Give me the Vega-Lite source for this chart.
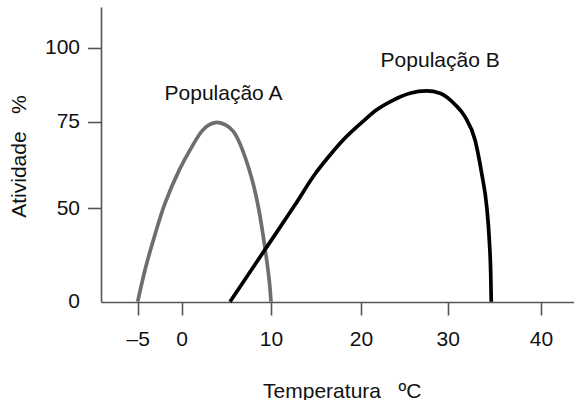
{
  "$schema": "https://vega.github.io/schema/vega-lite/v6.json",
  "width": 473,
  "height": 295,
  "autosize": {"type": "none"},
  "padding": {"left": 101, "top": 7, "right": 0, "bottom": 98},
  "background": "white",
  "config": {"view": {"stroke": null}, "font": "Liberation Sans"},
  "datasets": {
    "curves": [
      {"pop": "A", "i": 1, "temp": -5.0, "activity": 0},
      {"pop": "A", "i": 2, "temp": -4.17, "activity": 17.0},
      {"pop": "A", "i": 3, "temp": -3.15, "activity": 34.1},
      {"pop": "A", "i": 4, "temp": -1.9, "activity": 51.4},
      {"pop": "A", "i": 5, "temp": -0.27, "activity": 61.1},
      {"pop": "A", "i": 6, "temp": 1.1, "activity": 67.6},
      {"pop": "A", "i": 7, "temp": 2.24, "activity": 72.2},
      {"pop": "A", "i": 8, "temp": 3.0, "activity": 74.0},
      {"pop": "A", "i": 9, "temp": 3.95, "activity": 74.8},
      {"pop": "A", "i": 10, "temp": 4.96, "activity": 74.0},
      {"pop": "A", "i": 11, "temp": 5.78, "activity": 72.2},
      {"pop": "A", "i": 12, "temp": 6.53, "activity": 68.6},
      {"pop": "A", "i": 13, "temp": 7.84, "activity": 58.7},
      {"pop": "A", "i": 14, "temp": 8.6, "activity": 50.1},
      {"pop": "A", "i": 15, "temp": 9.33, "activity": 28.6},
      {"pop": "A", "i": 16, "temp": 9.81, "activity": 11.1},
      {"pop": "A", "i": 17, "temp": 10.0, "activity": 0},
      {"pop": "B", "i": 1, "temp": 5.41, "activity": 0},
      {"pop": "B", "i": 2, "temp": 7.31, "activity": 13.5},
      {"pop": "B", "i": 3, "temp": 9.33, "activity": 27.9},
      {"pop": "B", "i": 4, "temp": 12.67, "activity": 51.0},
      {"pop": "B", "i": 5, "temp": 14.89, "activity": 59.9},
      {"pop": "B", "i": 6, "temp": 16.56, "activity": 65.4},
      {"pop": "B", "i": 7, "temp": 17.86, "activity": 69.3},
      {"pop": "B", "i": 8, "temp": 20.27, "activity": 75.2},
      {"pop": "B", "i": 9, "temp": 21.81, "activity": 79.0},
      {"pop": "B", "i": 10, "temp": 23.73, "activity": 82.3},
      {"pop": "B", "i": 11, "temp": 25.65, "activity": 84.6},
      {"pop": "B", "i": 12, "temp": 27.58, "activity": 85.4},
      {"pop": "B", "i": 13, "temp": 29.11, "activity": 84.6},
      {"pop": "B", "i": 14, "temp": 30.78, "activity": 80.8},
      {"pop": "B", "i": 15, "temp": 31.85, "activity": 76.7},
      {"pop": "B", "i": 16, "temp": 32.93, "activity": 69.7},
      {"pop": "B", "i": 17, "temp": 33.64, "activity": 60.1},
      {"pop": "B", "i": 18, "temp": 34.18, "activity": 50.5},
      {"pop": "B", "i": 19, "temp": 34.46, "activity": 33.0},
      {"pop": "B", "i": 20, "temp": 34.61, "activity": 15.2},
      {"pop": "B", "i": 21, "temp": 34.67, "activity": 0}
    ],
    "labels": [
      {"label": "População A", "temp": 4.68, "activity": 82.3},
      {"label": "População B", "temp": 29.13, "activity": 93.6}
    ]
  },
  "layer": [
    {
      "data": {"name": "curves"},
      "transform": [{"filter": "datum.pop === 'A'"}],
      "mark": {"type": "line", "interpolate": "catmull-rom", "strokeWidth": 3.7, "strokeCap": "butt", "strokeJoin": "round", "clip": false},
      "encoding": {
        "x": {
          "field": "temp",
          "type": "quantitative",
          "scale": {
            "domain": [-9.17, -5, 0, 10, 20, 30, 40, 43.54],
            "range": [0, 36.7, 80.7, 170, 260, 346.7, 440, 473],
            "nice": false,
            "zero": false
          },
          "axis": {
            "values": [-5, 0, 10, 20, 30, 40],
            "title": "Temperatura\u00a0\u00a0\u00a0ºC",
            "grid": false,
            "domainColor": "#555555",
            "domainWidth": 1.6,
            "tickColor": "#555555",
            "tickWidth": 1.6,
            "tickSize": 13,
            "labelPadding": 13,
            "labelFontSize": 21,
            "labelColor": "#111111",
            "labelFont": "Liberation Sans",
            "labelExpr": "datum.value < 0 ? '–' + abs(datum.value) : datum.label",
            "titleFontSize": 21,
            "titleFontWeight": "normal",
            "titleColor": "#111111",
            "titleFont": "Liberation Sans",
            "titleX": 240.7,
            "titleY": 95,
            "titleAlign": "center",
            "titleBaseline": "alphabetic"
          }
        },
        "y": {
          "field": "activity",
          "type": "quantitative",
          "scale": {
            "domain": [0, 50, 75, 100, 113.75],
            "range": [294.7, 201.3, 114.7, 40.7, 0],
            "nice": false,
            "zero": false
          },
          "axis": {
            "values": [0, 50, 75, 100],
            "title": "Atividade\u00a0\u00a0\u00a0%",
            "grid": false,
            "domainColor": "#555555",
            "domainWidth": 1.6,
            "tickColor": "#555555",
            "tickWidth": 1.6,
            "tickSize": 13.5,
            "tickOpacity": {"condition": {"test": "datum.value === 0", "value": 0}, "value": 1},
            "labelPadding": 8,
            "labelFontSize": 21,
            "labelColor": "#111111",
            "labelFont": "Liberation Sans",
            "titleFontSize": 21,
            "titleFontWeight": "normal",
            "titleColor": "#111111",
            "titleFont": "Liberation Sans",
            "titleX": -75.7,
            "titleY": 149,
            "titleAngle": 270,
            "titleAlign": "center",
            "titleBaseline": "alphabetic"
          }
        },
        "color": {
          "field": "pop",
          "type": "nominal",
          "scale": {"domain": ["A", "B"], "range": ["#6e6e6e", "#000000"]},
          "legend": null
        },
        "order": {"field": "i", "type": "quantitative"}
      }
    },
    {
      "data": {"name": "curves"},
      "transform": [{"filter": "datum.pop === 'B'"}],
      "mark": {"type": "line", "interpolate": "monotone", "strokeWidth": 3.7, "strokeCap": "butt", "strokeJoin": "round", "clip": false},
      "encoding": {
        "x": {"field": "temp", "type": "quantitative"},
        "y": {"field": "activity", "type": "quantitative"},
        "color": {"field": "pop", "type": "nominal", "legend": null},
        "order": {"field": "i", "type": "quantitative"}
      }
    },
    {
      "data": {"name": "labels"},
      "mark": {"type": "text", "fontSize": 21, "font": "Liberation Sans", "align": "center", "baseline": "alphabetic", "color": "#111111"},
      "encoding": {
        "x": {"field": "temp", "type": "quantitative"},
        "y": {"field": "activity", "type": "quantitative"},
        "text": {"field": "label", "type": "nominal"}
      }
    }
  ]
}
